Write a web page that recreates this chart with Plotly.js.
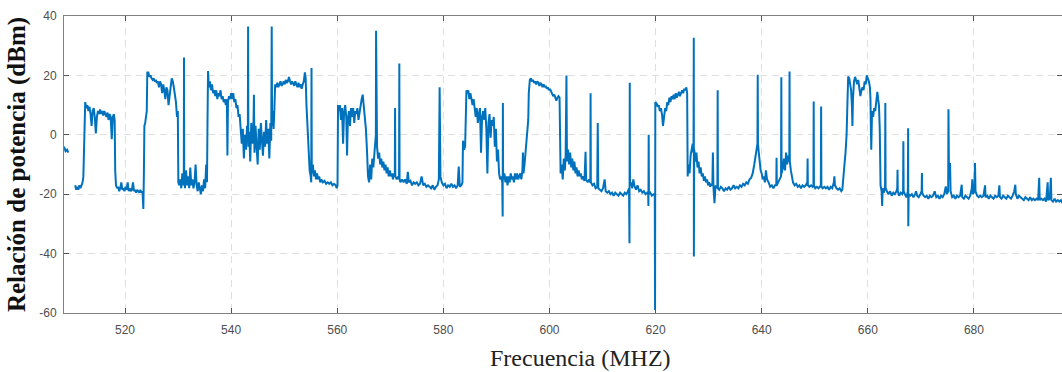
<!DOCTYPE html>
<html>
<head>
<meta charset="utf-8">
<script src="https://cdn.plot.ly/plotly-3.0.1.min.js"></script>
<style>html,body{margin:0;padding:0;background:#fff}#chart{width:1062px;height:372px}</style>
</head>
<body>
<div id="chart"></div>
<script>
// Tick values / labels
const xTickVals = [520, 540, 560, 580, 600, 620, 640, 660, 680];
const xTickText = ["520", "540", "560", "580", "600", "620", "640", "660", "680"];
const yTickVals = [-60, -40, -20, 0, 20, 40];
const yTickText = ["-60", "-40", "-20", "0", "20", "40"];

// Spectrum, [MHz, dBm], band by band (null = gap in the trace)
const band509 = [[508.5,-4],[508.8,-5.5],[509.1,-5],[509.3,-6],[509.35,null],[510.6,-17],[510.8,-18.5],[511.0,-17.5],[511.2,-18.5],[511.4,-17],[511.6,-18],[511.8,-17],[512.0,-16],[512.15,-14],[512.25,-5],[512.35,10]];
const band512 = [[512.5,11],[512.7,9],[512.9,10],[513.1,8],[513.3,9.5],[513.5,7],[513.7,3],[513.9,8],[514.1,9],[514.3,6],[514.5,0.5],[514.7,6],[514.9,8],[515.1,7],[515.3,8.5],[515.5,7],[515.7,8],[515.9,6.5],[516.1,8],[516.3,7],[516.5,6],[516.7,7.5],[516.9,5],[517.1,7],[517.3,6],[517.5,-1.5],[517.7,6],[517.9,7],[518.05,5],[518.15,-12]];
const band518 = [[518.3,-17],[518.5,-18],[518.7,-17.5],[518.9,-19],[519.1,-18],[519.3,-16],[519.5,-18.5],[519.7,-18],[519.9,-19],[520.1,-17.5],[520.3,-18.5],[520.5,-16],[520.7,-19],[520.9,-18],[521.1,-19],[521.3,-18.5],[521.5,-16],[521.7,-19],[521.9,-18.5],[522.1,-19.5],[522.3,-18.5],[522.5,-19],[522.7,-19.5],[522.9,-18.5],[523.1,-19.5],[523.3,-19],[523.45,-25],[523.55,-14],[523.65,3],[523.8,4],[524.0,7],[524.1,8],[524.2,21]];
const band524 = [[524.4,21],[524.6,19.5],[524.8,20],[525.0,19],[525.2,18.5],[525.4,19],[525.6,18],[525.8,18.5],[526.0,17.5],[526.2,18],[526.4,16],[526.6,18],[526.8,17],[527.0,14],[527.2,17],[527.4,15],[527.6,12],[527.8,16],[528.0,15],[528.2,10],[528.4,14],[528.6,16],[528.8,19],[529.0,18],[529.2,16],[529.4,14],[529.6,11],[529.8,6],[529.95,8],[530.05,-16]];
const band530 = [[530.2,-17],[530.4,-15],[530.6,-18],[530.8,-13],[531.0,-17],[531.08,-15],[531.12,26],[531.16,-14],[531.3,-18],[531.5,-12],[531.7,-17],[531.9,-14],[532.1,-18],[532.3,-11],[532.5,-17],[532.7,-15],[532.9,-18],[533.1,-16],[533.3,-10],[533.5,-17],[533.7,-19],[533.9,-16],[534.1,-18],[534.3,-20],[534.5,-17],[534.7,-19],[534.9,-15],[535.1,-18],[535.3,-10],[535.45,-16],[535.55,5],[535.65,21.5]];
const band536 = [[535.8,16],[536.0,18],[536.2,15],[536.4,17],[536.6,14],[536.8,15],[537.0,13],[537.2,15],[537.4,12],[537.6,14],[537.8,13],[538.0,15],[538.2,12],[538.4,13],[538.6,11],[538.8,12],[539.0,10],[539.2,12],[539.3,-7],[539.4,11],[539.6,13],[539.8,12],[540.0,14],[540.2,12],[540.4,14],[540.6,11],[540.8,12],[541.0,9],[541.2,10],[541.4,6],[541.6,7],[541.8,2]];
const band542 = [[542.0,-3],[542.2,2],[542.4,-8],[542.6,0],[542.8,-5],[543.0,3],[543.15,-2],[543.2,36.5],[543.25,-4],[543.4,1],[543.6,-9],[543.8,4],[544.0,-3],[544.2,2],[544.3,13.5],[544.4,-6],[544.6,3],[544.8,-4],[545.0,-10],[545.2,2],[545.4,-5],[545.6,4],[545.8,-2],[546.0,-7],[546.2,1],[546.4,-4],[546.6,5],[546.8,-3],[547.0,2],[547.2,-8],[547.4,4],[547.55,-2],[547.65,36.5],[547.72,3],[547.9,8],[548.0,2],[548.1,6],[548.3,17]];
const band548 = [[548.5,16],[548.7,17.5],[548.9,16],[549.1,17],[549.3,18],[549.5,16.5],[549.7,17],[549.9,18],[550.1,17],[550.3,18.5],[550.5,17.5],[550.7,18],[550.9,19.5],[551.1,18],[551.3,17],[551.5,18],[551.7,17],[551.9,16.5],[552.1,18],[552.3,17],[552.5,16],[552.7,17.5],[552.9,16],[553.1,17],[553.3,15.5],[553.5,17],[553.7,18],[553.9,21],[554.05,19],[554.2,10]];
const band554 = [[554.4,2],[554.6,-6],[554.8,-12],[555.0,-14],[555.1,-16],[555.15,22.5],[555.2,-13],[555.4,-10],[555.6,-14],[555.8,-12],[556.0,-15],[556.2,-13],[556.4,-15],[556.6,-14],[556.8,-16],[557.0,-15],[557.3,-16],[557.6,-15.5],[557.9,-16.5],[558.2,-16],[558.5,-16.5],[558.8,-16],[559.1,-17],[559.4,-16.5],[559.7,-17],[559.9,-18],[560.05,-17],[560.15,10]];
const band560 = [[560.3,8],[560.5,10],[560.7,5],[560.9,9],[561.1,-3],[561.3,8],[561.5,10],[561.7,6],[561.85,-7],[562.0,5],[562.2,8],[562.4,3],[562.6,9],[562.8,6],[563.0,9],[563.2,4],[563.4,8],[563.6,7],[563.8,9],[564.0,5],[564.2,8],[564.4,10],[564.6,12],[564.8,13.5],[565.0,10],[565.2,6],[565.4,2],[565.6,-5],[565.8,-14]];
const band566 = [[566.0,-16],[566.2,-10],[566.4,-15],[566.6,-8],[566.8,-11],[567.0,-5],[567.2,-2],[567.28,0],[567.32,35],[567.36,-3],[567.5,-4],[567.7,-8],[567.9,-6],[568.1,-10],[568.3,-8],[568.5,-11],[568.7,-9],[568.9,-12],[569.1,-10],[569.3,-13],[569.5,-11],[569.7,-14],[569.9,-12],[570.1,-14],[570.3,-13],[570.5,-15],[570.7,-13],[570.85,-14],[570.9,9],[570.95,-14],[571.2,-15],[571.5,-14],[571.65,-15],[571.7,24],[571.75,-15],[571.9,-16]];
const band572 = [[572.2,-15],[572.5,-16],[572.8,-15],[573.1,-16.5],[573.3,-12.5],[573.5,-16],[573.8,-15.5],[574.1,-17],[574.4,-16],[574.7,-16.5],[575.0,-16],[575.3,-17],[575.6,-16.5],[575.9,-14],[576.2,-17],[576.5,-16.5],[576.8,-17.5],[577.1,-17],[577.4,-17.5],[577.7,-18],[578.0,-17],[578.3,-18.5],[578.6,-17.5],[578.9,-17],[579.15,-15],[579.3,16],[579.45,-14],[579.7,-16],[580.0,-17],[580.3,-16.5],[580.6,-18],[580.9,-17],[581.2,-17.5],[581.5,-16.5],[581.8,-17.5],[582.1,-17],[582.4,-18],[582.7,-17],[582.9,-10.7],[583.1,-17.5],[583.4,-17],[583.6,-16],[583.7,-2],[583.9,-5],[584.1,-4],[584.2,12],[584.35,15]];
const band584 = [[584.5,14],[584.7,15],[584.9,12],[585.1,14],[585.3,12],[585.5,10],[585.7,12],[585.9,8],[586.1,6],[586.3,9],[586.5,4],[586.7,7],[586.9,9],[587.1,-6],[587.3,6],[587.5,8],[587.7,5],[587.9,9],[588.1,2],[588.3,-13],[588.5,4],[588.7,7],[588.9,-1],[589.1,5],[589.3,3],[589.5,6],[589.7,-4],[589.9,2],[590.1,-9],[590.3,-5],[590.5,-13],[590.7,-15]];
const band591 = [[590.9,-14],[591.1,-16],[591.18,-27.5],[591.22,10.7],[591.26,-15],[591.5,-13],[591.7,-16],[591.9,-14],[592.1,-17],[592.3,-14],[592.5,-16],[592.7,-13],[592.9,-15],[593.1,-14],[593.3,-16],[593.5,-13],[593.7,-15],[593.9,-13],[594.1,-15],[594.3,-14],[594.5,-13],[594.7,-15],[594.9,-12],[595.0,-6],[595.1,-13],[595.3,-10],[595.5,-5],[595.7,0],[595.9,2],[596.0,5],[596.1,14],[596.3,18.5]];
const band596 = [[596.5,19],[596.7,18],[596.9,18.5],[597.1,17.5],[597.3,18],[597.5,17],[597.7,18],[597.9,17.5],[598.1,16.5],[598.3,17.5],[598.5,17],[598.7,16],[598.9,17],[599.1,16],[599.3,16.5],[599.5,15.5],[599.7,16],[599.9,15],[600.1,15.5],[600.3,14.5],[600.5,14],[600.7,13],[600.9,13.5],[601.1,12.5],[601.3,11.5],[601.5,12.5],[601.7,13],[601.9,12.5],[602.0,-5],[602.1,-13]];
const band602 = [[602.3,-10],[602.5,-15],[602.7,-8],[602.9,-12],[603.05,-7],[603.2,20],[603.3,-9],[603.5,-5],[603.7,-10],[603.9,-6],[604.1,-11],[604.3,-8],[604.5,-12],[604.7,-9],[604.9,-13],[605.1,-11],[605.3,-14],[605.5,-12],[605.7,-14],[605.9,-13],[606.1,-15],[606.3,-14],[606.6,-15.5],[606.8,-5.7],[606.9,-15],[607.2,-16],[607.5,-15],[607.7,-16],[607.75,14],[607.8,-16],[608.1,-17],[608.4,-16.5],[608.7,-18],[609.0,-17.5],[609.1,4],[609.2,-18],[609.5,-18.5],[609.8,-19],[610.1,-18],[610.4,-15],[610.6,-19],[610.9,-19.5],[611.2,-19],[611.5,-20],[611.8,-19.5],[612.1,-20.5],[612.4,-19.5],[612.7,-20],[613.0,-20.5],[613.3,-19.5],[613.6,-20],[613.9,-20.5],[614.2,-19.5],[614.5,-20],[614.8,-19],[615.0,-18],[615.08,-36.5],[615.13,17.5],[615.18,-17],[615.4,-16],[615.6,-18],[615.8,-15],[616.0,-17],[616.3,-18.5],[616.6,-17],[616.9,-19],[617.2,-18.5],[617.5,-19.5],[617.8,-19],[618.1,-20],[618.4,-19.5],[618.6,-20],[618.65,-24],[618.7,0],[618.75,-20],[619.0,-19.5],[619.3,-20.5],[619.6,-20],[619.85,-20],[619.9,-59],[619.95,11]];
const band620 = [[620.2,10.5],[620.4,9.5],[620.6,10],[620.8,8],[621.0,9],[621.2,7],[621.4,3],[621.6,6],[621.8,9],[622.0,8],[622.2,11],[622.4,10],[622.6,12.5],[622.8,11],[623.0,13],[623.2,12],[623.4,13.5],[623.6,12],[623.8,14],[624.0,12.5],[624.2,13.5],[624.4,14.5],[624.6,13],[624.8,14.5],[625.0,15],[625.2,14],[625.4,15.5],[625.6,15],[625.8,16],[625.95,14],[626.05,-14]];
const band626 = [[626.2,-10],[626.4,-13],[626.6,-7],[626.8,-5],[627.0,-3],[627.15,-6],[627.2,32.7],[627.22,-41],[627.28,-5],[627.5,-9],[627.7,-6],[627.9,-11],[628.1,-9],[628.3,-13],[628.5,-11],[628.7,-14],[628.9,-13],[629.1,-15.5],[629.3,-14],[629.5,-16],[629.7,-15],[629.9,-17],[630.1,-16],[630.3,-17.5],[630.5,-16.5],[630.7,-17],[630.8,-6],[630.9,-17.5],[631.1,-23],[631.3,-17],[631.5,-18],[631.65,-17],[631.7,15],[631.75,-18]];
const band632 = [[632.0,-18.5],[632.3,-17.5],[632.6,-18],[632.9,-19],[633.2,-18],[633.5,-18.5],[633.8,-17.5],[634.1,-18.5],[634.4,-18],[634.7,-17],[635.0,-18],[635.3,-17.5],[635.6,-18],[635.9,-17],[636.2,-17.5],[636.5,-16.5],[636.8,-17],[637.1,-16],[637.4,-16.5],[637.7,-15],[638.0,-14.5],[638.3,-13],[638.6,-10],[638.8,-7],[639.0,-5],[639.2,-3],[639.25,20.2],[639.3,-3],[639.45,-6],[639.6,-9],[639.8,-12],[640.0,-13],[640.2,-15],[640.4,-14],[640.6,-16],[640.8,-12],[641.0,-15],[641.3,-16],[641.6,-17.5],[641.9,-17],[642.2,-18],[642.5,-17],[642.75,-17],[642.8,-7.7],[642.85,-17],[643.1,-16],[643.4,-15],[643.65,-14],[643.7,19.4],[643.75,-13],[644.0,-11],[644.2,-8],[644.4,-12],[644.6,-6],[644.8,-10],[645.0,-7],[645.2,-9],[645.25,21.3],[645.3,-9],[645.5,-12],[645.7,-14],[645.9,-16]];
const band646 = [[646.2,-17],[646.5,-16.5],[646.8,-17.5],[647.1,-17],[647.4,-18],[647.7,-17],[648.0,-17.5],[648.3,-17],[648.6,-16],[648.65,-8],[648.7,-17],[649.0,-17.5],[649.3,-17],[649.6,-17.5],[649.75,-17],[649.8,11.2],[649.85,-17],[650.1,-18],[650.4,-17.5],[650.7,-18],[651.0,-17.5],[651.15,-17],[651.2,9.5],[651.25,-17.5],[651.5,-18],[651.8,-17.5],[652.1,-18],[652.4,-17.5],[652.7,-18.5],[653.0,-17.5],[653.3,-18],[653.6,-16],[653.7,-14],[653.8,-17],[654.1,-18],[654.4,-18.5],[654.7,-18],[655.0,-19],[655.2,-18.5],[655.4,-13],[655.6,-10],[655.8,-6],[656.0,0],[656.15,10],[656.3,19.6]];
const band656 = [[656.5,19],[656.7,17],[656.85,15],[657.0,10],[657.1,3],[657.2,12],[657.4,18],[657.6,19.5],[657.8,18],[658.0,17],[658.2,18.5],[658.4,16],[658.6,13],[658.8,15],[659.0,16],[659.2,15],[659.4,18],[659.6,17],[659.8,20],[660.0,19],[660.2,18],[660.4,16],[660.5,12],[660.65,-5],[660.8,8],[661.0,6],[661.2,9],[661.4,8],[661.6,11],[661.8,14.5],[661.95,12],[662.1,10],[662.25,2],[662.4,-17]];
const band662 = [[662.6,-19],[662.7,-24],[662.8,-18],[663.0,-19.5],[663.2,-18],[663.25,-17],[663.3,10.7],[663.35,-18],[663.6,-19],[663.9,-20],[664.2,-19],[664.5,-20.5],[664.8,-19.5],[665.1,-20],[665.4,-19],[665.55,-18],[665.6,-11.8],[665.65,-19],[665.9,-20.5],[666.2,-19.5],[666.5,-20],[666.65,-19],[666.7,-2.2],[666.75,-19],[667.0,-20],[667.3,-21],[667.55,-19],[667.6,2.2],[667.63,-30.8],[667.7,-20],[668.0,-20.5],[668.3,-20],[668.6,-21],[668.9,-20],[669.1,-19],[669.3,-20.5],[669.6,-21],[669.9,-20],[670.15,-19],[670.2,-12.9],[670.25,-19.5],[670.5,-20.5],[670.8,-21],[671.1,-20.5],[671.4,-21.5],[671.7,-20.5],[672.0,-21],[672.3,-20.5],[672.6,-19],[672.9,-21],[673.2,-20.5],[673.5,-21.5],[673.8,-20.5],[674.1,-21],[674.4,-20],[674.7,-17.4],[674.9,-20],[675.15,-19],[675.2,8.6],[675.3,-15],[675.5,-9.5],[675.6,-19],[675.9,-21],[676.2,-20.5],[676.5,-21.5],[676.8,-20.5],[677.1,-21],[677.4,-20.5],[677.7,-16.8],[677.8,-21],[678.1,-21.5],[678.4,-20.5],[678.7,-21],[679.0,-21.5],[679.3,-20.5],[679.6,-18],[679.7,-15],[679.8,-20],[680.1,-19],[680.2,-9.5],[680.3,-19]];
const band680 = [[680.6,-20.5],[680.9,-21],[681.2,-20.5],[681.5,-21],[681.8,-20.5],[682.1,-17],[682.2,-21],[682.5,-20.5],[682.8,-21.5],[683.1,-20.5],[683.4,-21],[683.7,-21.5],[684.0,-20.5],[684.3,-21],[684.6,-20.5],[684.8,-17],[684.9,-21],[685.2,-21.5],[685.5,-20.5],[685.8,-21],[686.1,-21.5],[686.4,-20.5],[686.7,-21],[687.0,-21.5],[687.3,-20.5],[687.6,-19],[687.8,-16.8],[687.9,-20],[688.2,-21.5],[688.5,-20.5],[688.8,-21],[689.1,-21.5],[689.4,-22],[689.7,-21],[690.0,-21.5],[690.3,-22],[690.6,-21],[690.9,-22],[691.2,-21.5],[691.5,-22],[691.8,-21.5],[692.1,-22],[692.3,-14.5],[692.4,-22],[692.7,-21.5],[693.0,-22],[693.3,-21.5],[693.6,-22.5],[693.9,-16],[694.0,-22],[694.3,-21.5],[694.5,-14.5],[694.6,-22],[694.9,-22.5],[695.2,-21.5],[695.5,-22.5],[695.8,-22],[696.1,-22.5],[696.4,-22],[696.7,-23],[697.0,-22.5]];

const bands = [band509, band512, band518, band524, band530, band536, band542, band548, band554, band560, band566, band572, band584, band591, band596, band602, band620, band626, band632, band646, band656, band662, band680];
const spectrum = [].concat(...bands);
const freq = spectrum.map(p => p[0]);
const power = spectrum.map(p => p[1]);

const trace = {
  x: freq, y: power, type: 'scatter', mode: 'lines',
  line: {color: '#0072BD', width: 2},
  connectgaps: false,
  hoverinfo: 'skip'
};

const axisCommon = {
  showline: true, linecolor: '#808080', linewidth: 1, mirror: 'ticks',
  ticks: 'inside', ticklen: 5, tickcolor: '#555555', tickwidth: 1,
  showgrid: true, gridcolor: '#dedede', griddash: '7px,5px', gridwidth: 1,
  zeroline: false,
  tickfont: {family: 'Liberation Sans, Arial, sans-serif', size: 12, color: '#4d4d4d'}
};

const layout = {
  width: 1062, height: 372,
  margin: {l: 64, r: 0, t: 16, b: 59},
  paper_bgcolor: '#ffffff', plot_bgcolor: '#ffffff',
  showlegend: false,
  xaxis: Object.assign({}, axisCommon, {
    range: [508.5, 696.6], tickmode: 'array', tickvals: xTickVals, ticktext: xTickText,
    ticklabelstandoff: 6
  }),
  yaxis: Object.assign({}, axisCommon, {
    range: [-60, 40], tickmode: 'array', tickvals: yTickVals, ticktext: yTickText,
    ticklabelstandoff: 4,
    title: {text: '<b>Relación de potencia (dBm)</b>', standoff: 6,
      font: {family: 'Liberation Serif, Times New Roman, serif', size: 25, color: '#111111'}}
  }),
  annotations: [{
    text: 'Frecuencia (MHZ)', xref: 'paper', yref: 'paper', x: 0.518, y: 0,
    yshift: -45, xanchor: 'center', yanchor: 'middle', showarrow: false,
    font: {family: 'Liberation Serif, Times New Roman, serif', size: 24, color: '#222222'}
  }]
};

Plotly.newPlot('chart', [trace], layout, {displayModeBar: false, staticPlot: true});
</script>
</body>
</html>
